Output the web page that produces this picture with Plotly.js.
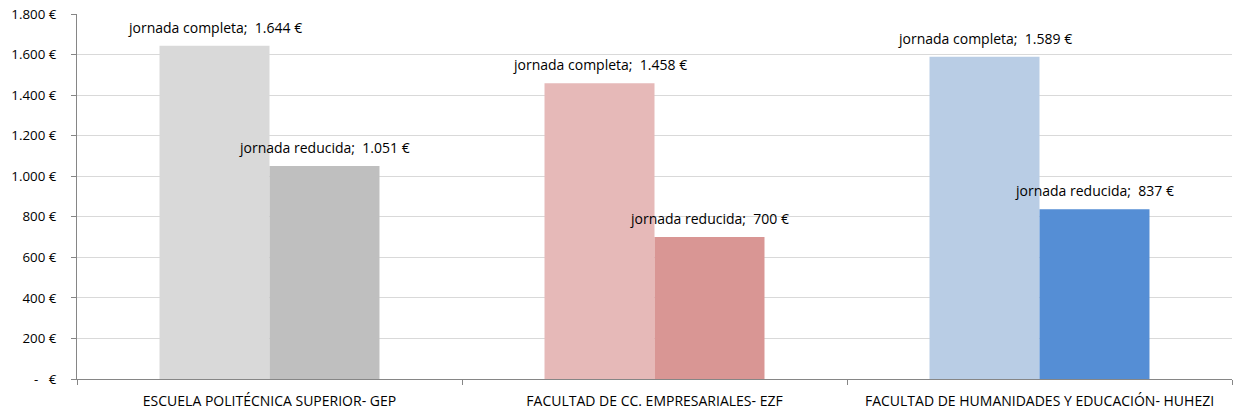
<!DOCTYPE html>
<html>
<head>
<meta charset="utf-8">
<script src="https://cdn.plot.ly/plotly-3.0.1.min.js"></script>
<style>html,body{margin:0;padding:0;background:#fff;}#chart{width:1233px;height:412px;}</style>
</head>
<body>
<div id="chart"></div>
<script>
const categories = ["ESCUELA POLITÉCNICA SUPERIOR- GEP", "FACULTAD DE CC. EMPRESARIALES- EZF", "FACULTAD DE HUMANIDADES Y EDUCACIÓN- HUHEZI"];
const seriesNames = ["jornada completa", "jornada reducida"];
const completa = [1644, 1458, 1589];
const reducida = [1051, 700, 837];
const completaColors = ["#d9d9d9", "#e6b9b8", "#b9cde5"];
const reducidaColors = ["#bfbfbf", "#d99694", "#558ed5"];
const yTickVals = [0, 200, 400, 600, 800, 1000, 1200, 1400, 1600, 1800];
const yTickText = ["-\u00A0\u00A0\u00A0€", "200 €", "400 €", "600 €", "800 €", "1.000 €", "1.200 €", "1.400 €", "1.600 €", "1.800 €"];

const FONT = "Open Sans, sans-serif";
const W = 1233, H = 412, ML = 77, MR = 1;
const BARGAP = 0.4286;

function fmt(v) {
  return String(v).replace(/\B(?=(\d{3})+(?!\d))/g, ".");
}

function makeTrace(name, vals, colors) {
  return {
    type: "bar", name: name, x: categories, y: vals,
    marker: {color: colors, line: {width: 0}},
    hoverinfo: "none"
  };
}

const data = [makeTrace(seriesNames[0], completa, completaColors), makeTrace(seriesNames[1], reducida, reducidaColors)];

// label annotations placed on each bar through the axis scales
const catWidthPx = (W - ML - MR) / categories.length;
const barWidthPx = catWidthPx * (1 - BARGAP) / 2;
const annotations = [];
[completa, reducida].forEach((vals, s) => {
  vals.forEach((v, i) => {
    annotations.push({
      xref: "x", yref: "y", x: categories[i], y: v,
      xshift: (s === 0 ? -1 : 1) * barWidthPx / 2,
      yshift: 7,
      xanchor: "center", yanchor: "bottom", showarrow: false,
      text: seriesNames[s] + ";\u00A0\u00A0" + fmt(v) + " €",
      font: {family: FONT, size: 14, color: "#000"}
    });
  });
});

const layout = {
  width: W, height: H,
  margin: {l: ML, r: MR, t: 14, b: 33},
  paper_bgcolor: "#fff", plot_bgcolor: "#fff",
  showlegend: false,
  barmode: "group", bargap: BARGAP, bargroupgap: 0,
  font: {family: FONT, size: 13, color: "#000"},
  annotations: annotations,
  xaxis: {
    type: "category", showline: true, linecolor: "#868686", linewidth: 1,
    ticks: "outside", tickson: "boundaries", ticklen: 5, tickcolor: "#868686",
    showgrid: false, tickfont: {family: FONT, size: 14, color: "#000"}, ticklabelstandoff: 9
  },
  yaxis: {
    range: [0, 1800], tickvals: yTickVals, ticktext: yTickText,
    showline: true, linecolor: "#868686", linewidth: 1,
    ticks: "outside", ticklen: 5, tickcolor: "#868686",
    showgrid: true, gridcolor: "#d9d9d9", gridwidth: 1, zeroline: false,
    tickfont: {family: FONT, size: 13.3, color: "#000"}, ticklabelstandoff: 12
  }
};

Plotly.newPlot("chart", data, layout, {staticPlot: true, displayModeBar: false});
</script>
</body>
</html>
